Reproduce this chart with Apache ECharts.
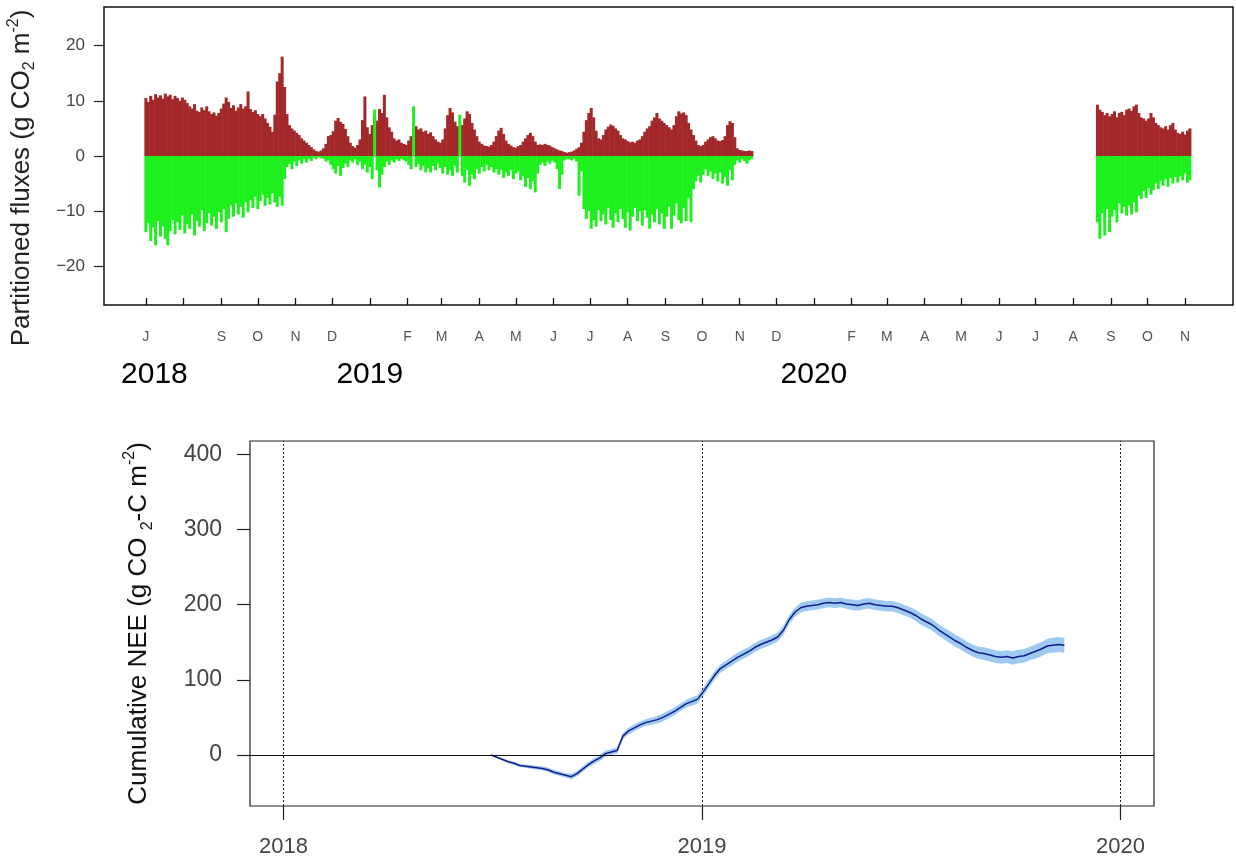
<!DOCTYPE html>
<html>
<head>
<meta charset="utf-8">
<script src="https://cdn.jsdelivr.net/npm/echarts@6/dist/echarts.min.js"></script>
<style>
  html, body { margin: 0; padding: 0; background: #fff; }
  #chart { width: 1236px; height: 861px; }
</style>
</head>
<body>
<div id="chart"></div>
<script>
const DAY = 86400000;
const utc = (y, m, d) => Date.UTC(y, m - 1, d);

// Partitioned daily fluxes (g CO2 m-2), one value every 2 days
const fluxStep = 2;
const seg1Start = utc(2018, 7, 1);
const seg2Start = utc(2020, 8, 21);

// ecosystem respiration, Jul 2018 - Nov 2019
const reco1 = [
  10.5, 9.8, 10.9, 10.2, 11.2, 10.6, 11.0, 10.4, 11.3, 10.8,
  11.1, 10.3, 10.9, 10.5, 10.0, 10.6, 10.2, 9.6, 9.0, 8.6,
  9.4, 8.2, 8.0, 8.8, 8.3, 9.0, 8.1, 7.6, 7.9, 7.3,
  7.8, 8.6, 9.5, 10.6, 9.8, 8.7, 9.2, 8.2, 8.8, 9.4,
  8.6, 9.0, 11.7, 8.5, 8.0, 8.3, 7.6, 7.2, 7.6, 6.8,
  6.0, 5.3, 4.4, 7.5, 13.5, 15.0, 18.0, 12.5, 7.6, 5.6,
  5.0, 4.6, 4.2, 3.8, 3.2, 2.8, 2.4, 2.0, 1.6, 1.2,
  0.9, 0.8, 1.0, 1.4, 2.2, 3.6, 3.8, 4.5, 6.4, 6.9,
  6.2, 5.8, 4.9, 3.6, 2.4, 1.8, 1.5, 2.0, 3.0, 6.5,
  10.8, 5.2, 4.0, 5.6, 7.2, 6.4, 8.5, 7.8, 11.1, 7.0,
  5.2, 4.4, 3.2, 2.8, 3.0, 2.4, 2.2, 2.0, 2.8, 3.6,
  4.8, 5.4, 4.8, 5.0, 4.4, 4.6, 4.0, 4.3, 3.6, 3.0,
  2.6, 2.4, 3.0, 5.0, 7.4, 8.7, 7.9, 6.2, 5.4, 5.0,
  5.6, 6.8, 8.1, 7.6, 6.0, 4.8, 3.6, 2.6, 2.2, 1.9,
  1.8, 1.7, 2.0, 2.6, 3.6, 4.6, 5.1, 4.0, 2.8, 2.2,
  1.9, 1.6, 1.5, 1.8, 2.0, 2.6, 3.2, 3.8, 4.2, 3.6,
  2.6, 2.0, 2.1, 2.0, 2.2, 2.0, 1.9, 1.6, 1.4, 1.2,
  1.0, 0.9, 0.7, 0.6, 0.7, 0.8, 1.0, 1.3, 1.6, 2.4,
  4.4, 6.5, 7.8, 8.7, 7.0, 4.6, 3.2, 3.0, 3.8, 4.8,
  5.3, 5.7, 5.5, 5.0, 4.6, 3.8, 3.2, 3.0, 2.7, 2.5,
  2.6, 2.4, 2.8, 3.0, 3.6, 4.4, 5.0, 5.4, 6.4, 7.0,
  7.8, 6.8, 6.4, 6.0, 5.6, 5.2, 4.8, 5.6, 7.2, 8.1,
  7.7, 7.9, 7.4, 6.0, 4.8, 3.8, 2.8, 2.0, 1.8, 2.0,
  2.6, 3.0, 3.4, 3.6, 3.2, 2.8, 2.7, 2.9, 3.6, 5.6,
  6.3, 6.0, 3.4, 1.4, 1.1, 1.0, 0.9, 0.9, 1.0, 0.9
];

// gross primary production, Jul 2018 - Nov 2019
const gpp1 = [
  -13.8, -12.2, -15.4, -13.0, -16.2, -11.8, -14.6, -12.8, -15.0, -16.2,
  -13.6, -11.6, -14.2, -12.0, -13.4, -10.8, -14.0, -12.4, -13.2, -10.6,
  -14.4, -11.8, -12.8, -9.8, -13.6, -12.2, -10.4, -12.6, -11.0, -13.2,
  -10.2, -12.0, -9.6, -13.8, -11.4, -9.0, -11.0, -8.6, -10.6, -9.2,
  -11.2, -8.4, -10.2, -8.0, -9.4, -7.4, -9.6, -8.2, -7.0, -9.0,
  -7.6, -8.8, -6.8, -8.4, -9.2, -7.4, -9.0, -4.2, -2.0, -1.4,
  -2.4, -1.0, -1.8, -0.8, -1.4, -0.6, -1.2, -0.5, -0.9, -0.3,
  -0.6, -0.2, -0.4, -0.5, -1.0, -0.8, -1.6, -2.4, -3.2, -1.8,
  -3.6, -2.2, -1.4, -2.0, -0.8, -1.2, -0.6, -1.6, -1.0, -2.4,
  -1.6, -3.0, -2.0, -4.2, 8.4, -2.6, -5.7, -3.4, -2.0, -1.0,
  -1.6, -0.8, -1.2, -0.6, -0.9, -0.5, -0.8, -1.0, -1.6, -2.4,
  9.0, -2.0, -1.4, -2.6, -1.8, -3.0, -2.2, -3.0, -1.8, -2.6,
  -1.4, -2.2, -3.2, -2.0, -3.4, -2.6, -3.6, -1.8, -3.0, 7.5,
  -3.6, -4.8, -2.6, -5.4, -3.4, -4.2, -2.4, -3.2, -2.0, -2.8,
  -1.6, -2.6, -2.0, -3.0, -2.4, -3.4, -2.6, -4.0, -3.0, -3.6,
  -2.6, -4.2, -3.2, -2.8, -4.4, -3.6, -5.6, -4.0, -6.0, -4.6,
  -6.6, -3.2, -1.6, -1.2, -1.8, -1.0, -1.4, -0.8, -1.2, -2.4,
  -6.0, -3.4, -0.8, -0.5, -0.6, -0.8, -0.5, -1.0, -7.2, -2.8,
  -9.6, -11.4, -10.0, -13.2, -11.6, -12.8, -9.8, -11.8, -10.6, -12.4,
  -9.4, -11.6, -13.0, -10.4, -12.0, -9.6, -11.4, -13.0, -10.2, -13.5,
  -11.0, -9.4, -11.8, -10.0, -12.6, -9.8, -11.2, -13.2, -10.6, -12.0,
  -9.6, -12.4, -10.4, -13.2, -11.0, -9.2, -13.2, -10.8, -8.6, -11.6,
  -12.2, -9.4, -11.8, -7.6, -12.0, -6.0, -4.6, -3.6, -4.8, -3.4,
  -2.4, -3.6, -2.8, -4.2, -3.2, -4.6, -3.0, -5.0, -3.8, -5.4,
  -2.6, -4.4, -1.6, -0.8, -1.2, -0.6, -0.9, -1.4, -0.8, -0.5
];

// ecosystem respiration, Aug - Nov 2020
const reco2 = [
  9.3, 8.4, 8.0, 7.4, 7.8, 7.2, 7.6, 8.1, 7.0, 7.8,
  8.0, 7.4, 8.4, 8.6, 8.2, 9.0, 9.3, 7.8, 7.0, 6.8,
  6.4, 6.8, 7.8, 7.0, 6.0, 5.6, 5.2, 5.0, 5.4, 4.8,
  5.6, 6.0, 4.8, 4.2, 4.0, 4.4, 3.9, 4.6, 5.0
];

// gross primary production, Aug - Nov 2020
const gpp2 = [
  -12.0, -15.0, -10.4, -14.4, -9.6, -13.8, -11.0, -9.8, -12.0, -8.6,
  -10.4, -9.2, -10.8, -9.0, -10.6, -8.4, -10.2, -7.2, -7.8, -6.4,
  -7.6, -5.8, -7.0, -6.2, -5.0, -6.0, -4.6, -5.4, -4.2, -5.6,
  -4.0, -5.0, -3.8, -4.8, -3.6, -4.4, -3.2, -4.8, -4.4
];

// month axis of the flux panel
const monthTicks = [
  '2018-07', '2018-08', '2018-09', '2018-10', '2018-11', '2018-12',
  '2019-01', '2019-02', '2019-03', '2019-04', '2019-05', '2019-06',
  '2019-07', '2019-08', '2019-09', '2019-10', '2019-11', '2019-12',
  '2020-01', '2020-02', '2020-03', '2020-04', '2020-05', '2020-06',
  '2020-07', '2020-08', '2020-09', '2020-10', '2020-11'
];
const monthLabels = [
  'J', '', 'S', 'O', 'N', 'D',
  '', 'F', 'M', 'A', 'M', 'J',
  'J', 'A', 'S', 'O', 'N', 'D',
  '', 'F', 'M', 'A', 'M', 'J',
  'J', 'A', 'S', 'O', 'N'
];
const yearLabelDates = ['2018-07-08', '2019-01-01', '2020-01-01'];
const yearLabels = ['2018', '2019', '2020'];
const fluxTicks = [-20, -10, 0, 10, 20];

// Cumulative NEE (g CO2-C m-2), one value every 5 days from 1 Jul 2018
const neeStart = utc(2018, 7, 1);
const neeStep = 5;
const nee = [
  0, -3, -6, -9, -11, -14, -15, -16, -17, -18,
  -20, -23, -25, -27, -29, -25, -19, -13, -8, -4,
  2, 4, 6, 25, 32, 36, 40, 43, 45, 47,
  50, 54, 58, 63, 68, 71, 74, 84, 95, 106,
  115, 120, 125, 130, 134, 138, 143, 147, 150, 153,
  157, 166, 180, 190, 196, 198, 199, 200, 202, 203,
  202, 203, 201, 200, 199, 201, 202, 200, 199, 198,
  198, 196, 193, 190, 186, 181, 177, 173, 167, 162,
  157, 152, 148, 143, 139, 136, 135, 133, 131, 130,
  131, 129, 131, 132, 135, 138, 141, 145, 146, 147,
  146
];
// uncertainty half-width of the cumulative sum
const neeUnc = [
  1, 1, 1.5, 1.5, 2, 2, 2, 2.5, 2.5, 2.5,
  3, 3, 3, 3, 3.5, 3.5, 3.5, 3.5, 4, 4,
  4, 4, 4, 4, 4.5, 4.5, 4.5, 4.5, 4.5, 5,
  5, 5, 5, 5, 5, 5.5, 5.5, 5.5, 5.5, 5.5,
  5.5, 5.5, 6, 6, 6, 6, 6, 6, 6, 6,
  6, 6, 6, 6, 6.5, 6.5, 6.5, 6.5, 6.5, 6.5,
  6.5, 6.5, 6.5, 7, 7, 7, 7, 7, 7, 7,
  7, 7, 7, 7, 7.5, 7.5, 7.5, 7.5, 7.5, 7.5,
  8, 8, 8, 8, 8, 8, 8.5, 8.5, 8.5, 8.5,
  8.5, 9, 9, 9, 9, 9.5, 9.5, 9.5, 10, 10,
  10
];
const neeYears = [2018, 2019, 2020];
const neeTicks = [0, 100, 200, 300, 400];

// ---- helpers ----
const parseDay = s => utc(+s.slice(0, 4), +s.slice(5, 7), s.length > 7 ? +s.slice(8, 10) : 1);
const series2 = (start, step, vals) => vals.map((v, i) => [start + i * step * DAY, v]);

const recoData = series2(seg1Start, fluxStep, reco1).concat(series2(seg2Start, fluxStep, reco2));
const gppData = series2(seg1Start, fluxStep, gpp1).concat(series2(seg2Start, fluxStep, gpp2));

const monthVals = monthTicks.map(parseDay);
const yearVals = yearLabelDates.map(parseDay);
const neeYearVals = neeYears.map(y => utc(y, 1, 1));

const neeLine = series2(neeStart, neeStep, nee);
// [time, lower, upper] for the uncertainty ribbon
const neeRibbon = nee.map((v, i) => [neeStart + i * neeStep * DAY, v - neeUnc[i], v + neeUnc[i]]);

// axis extents padded 4% beyond the data, like base graphics
const fluxMin = seg1Start - 34.4 * DAY;
const fluxMax = seg1Start + 893.4 * DAY;
const neeMin = utc(2018, 1, 1) - 29.2 * DAY;
const neeMax = utc(2020, 1, 1) + 29.2 * DAY;

const FONT = 'Liberation Sans, Arial, Helvetica, sans-serif';
const minus = v => (v < 0 ? '\u2212' + (-v) : String(v));
const lookup = (vals, labels) => v => {
  const i = vals.findIndex(t => Math.abs(t - v) < 1000);
  return i >= 0 ? labels[i] : '';
};

const chart = echarts.init(document.getElementById('chart'), null, { renderer: 'canvas' });

chart.setOption({
  animation: false,
  backgroundColor: '#fff',
  textStyle: { fontFamily: FONT },
  grid: [
    { left: 104, top: 7, width: 1129, height: 298, show: true, borderColor: '#111', borderWidth: 1.5,
      backgroundColor: 'transparent', outerBoundsMode: 'none', containLabel: false },
    { left: 250, top: 441, width: 904, height: 365, show: true, borderColor: '#222', borderWidth: 1.2,
      backgroundColor: 'transparent', outerBoundsMode: 'none', containLabel: false }
  ],
  xAxis: [
    {
      // time in ms since epoch (UTC)
      type: 'value', gridIndex: 0, min: fluxMin, max: fluxMax, position: 'bottom',
      axisLine: { show: false, onZero: false },
      splitLine: { show: false },
      axisTick: { show: true, inside: true, length: 7, customValues: monthVals, lineStyle: { color: '#111', width: 1.3 } },
      axisLabel: {
        customValues: monthVals, margin: 25, color: '#555', fontSize: 14, fontFamily: FONT,
        formatter: lookup(monthVals, monthLabels)
      }
    },
    {
      type: 'value', gridIndex: 0, min: fluxMin, max: fluxMax, position: 'bottom',
      axisLine: { show: false, onZero: false }, axisTick: { show: false }, splitLine: { show: false },
      axisLabel: {
        customValues: yearVals, margin: 55, color: '#000', fontSize: 30, fontFamily: FONT,
        formatter: lookup(yearVals, yearLabels)
      }
    },
    {
      type: 'value', gridIndex: 1, min: neeMin, max: neeMax, position: 'bottom',
      axisLine: { show: false, onZero: false }, splitLine: { show: false },
      axisTick: { show: true, length: 14, customValues: neeYearVals, lineStyle: { color: '#222', width: 1.2 } },
      axisLabel: {
        customValues: neeYearVals, margin: 30, color: '#444', fontSize: 22, fontFamily: FONT,
        formatter: lookup(neeYearVals, neeYears.map(String))
      }
    }
  ],
  yAxis: [
    {
      type: 'value', gridIndex: 0, min: -27, max: 27,
      axisLine: { show: false, onZero: false }, splitLine: { show: false },
      axisTick: { show: true, length: 10, customValues: fluxTicks, lineStyle: { color: '#222', width: 1.2 } },
      axisLabel: { customValues: fluxTicks, margin: 19, color: '#444', fontSize: 17, fontFamily: FONT, formatter: minus },
      name: 'Partitioned fluxes (g CO{sub|2} m{sup|-2})',
      nameLocation: 'middle', nameGap: 66,
      nameTextStyle: {
        fontSize: 26, color: '#222', fontFamily: FONT, lineHeight: 32, padding: [0, 44, 0, 0],
        rich: {
          sub: { fontSize: 16, verticalAlign: 'bottom', fontFamily: FONT, color: '#222' },
          sup: { fontSize: 16, verticalAlign: 'top', fontFamily: FONT, color: '#222' }
        }
      }
    },
    {
      type: 'value', gridIndex: 1, min: -68, max: 418,
      axisLine: { show: false, onZero: false }, splitLine: { show: false },
      axisTick: { show: true, length: 13, customValues: neeTicks, lineStyle: { color: '#222', width: 1.2 } },
      axisLabel: { customValues: neeTicks, margin: 28, color: '#444', fontSize: 23, fontFamily: FONT },
      name: 'Cumulative NEE (g CO {sub|2}-C m{sup|-2})',
      nameLocation: 'middle', nameGap: 94,
      nameTextStyle: {
        fontSize: 26, color: '#111', fontFamily: FONT, lineHeight: 34,
        rich: {
          sub: { fontSize: 16, verticalAlign: 'bottom', fontFamily: FONT, color: '#111' },
          sup: { fontSize: 16, verticalAlign: 'top', fontFamily: FONT, color: '#111' }
        }
      }
    }
  ],
  series: [
    {
      name: 'Reco', type: 'bar', xAxisIndex: 0, yAxisIndex: 0,
      data: recoData, barWidth: 3, barGap: '-100%',
      itemStyle: { color: '#a3282a' }
    },
    {
      name: 'GPP', type: 'bar', xAxisIndex: 0, yAxisIndex: 0,
      data: gppData, barWidth: 3, barGap: '-100%',
      itemStyle: { color: '#1ef01e' }
    },
    {
      // uncertainty ribbon around the cumulative sum
      name: 'ribbon', type: 'custom', xAxisIndex: 2, yAxisIndex: 1,
      data: neeRibbon, encode: { x: 0, y: [1, 2] }, clip: true, silent: true,
      renderItem: (params, api) => {
        if (params.dataIndex !== 0) return null;
        const upper = neeRibbon.map(d => api.coord([d[0], d[2]]));
        const lower = neeRibbon.map(d => api.coord([d[0], d[1]])).reverse();
        return {
          type: 'polygon',
          shape: { points: upper.concat(lower) },
          style: { fill: '#93c4ef', opacity: 0.9 }
        };
      }
    },
    {
      name: 'NEE', type: 'line', xAxisIndex: 2, yAxisIndex: 1,
      data: neeLine, symbol: 'none',
      lineStyle: { color: '#0f1f8c', width: 1.5 },
      markLine: {
        silent: true, symbol: ['none', 'none'], label: { show: false },
        lineStyle: { color: '#222', width: 1, type: [2, 2] },
        data: neeYearVals.map(v => ({ xAxis: v })).concat([
          { yAxis: 0, lineStyle: { color: '#111', width: 1.2, type: 'solid' } }
        ])
      }
    }
  ]
});
</script>
</body>
</html>
